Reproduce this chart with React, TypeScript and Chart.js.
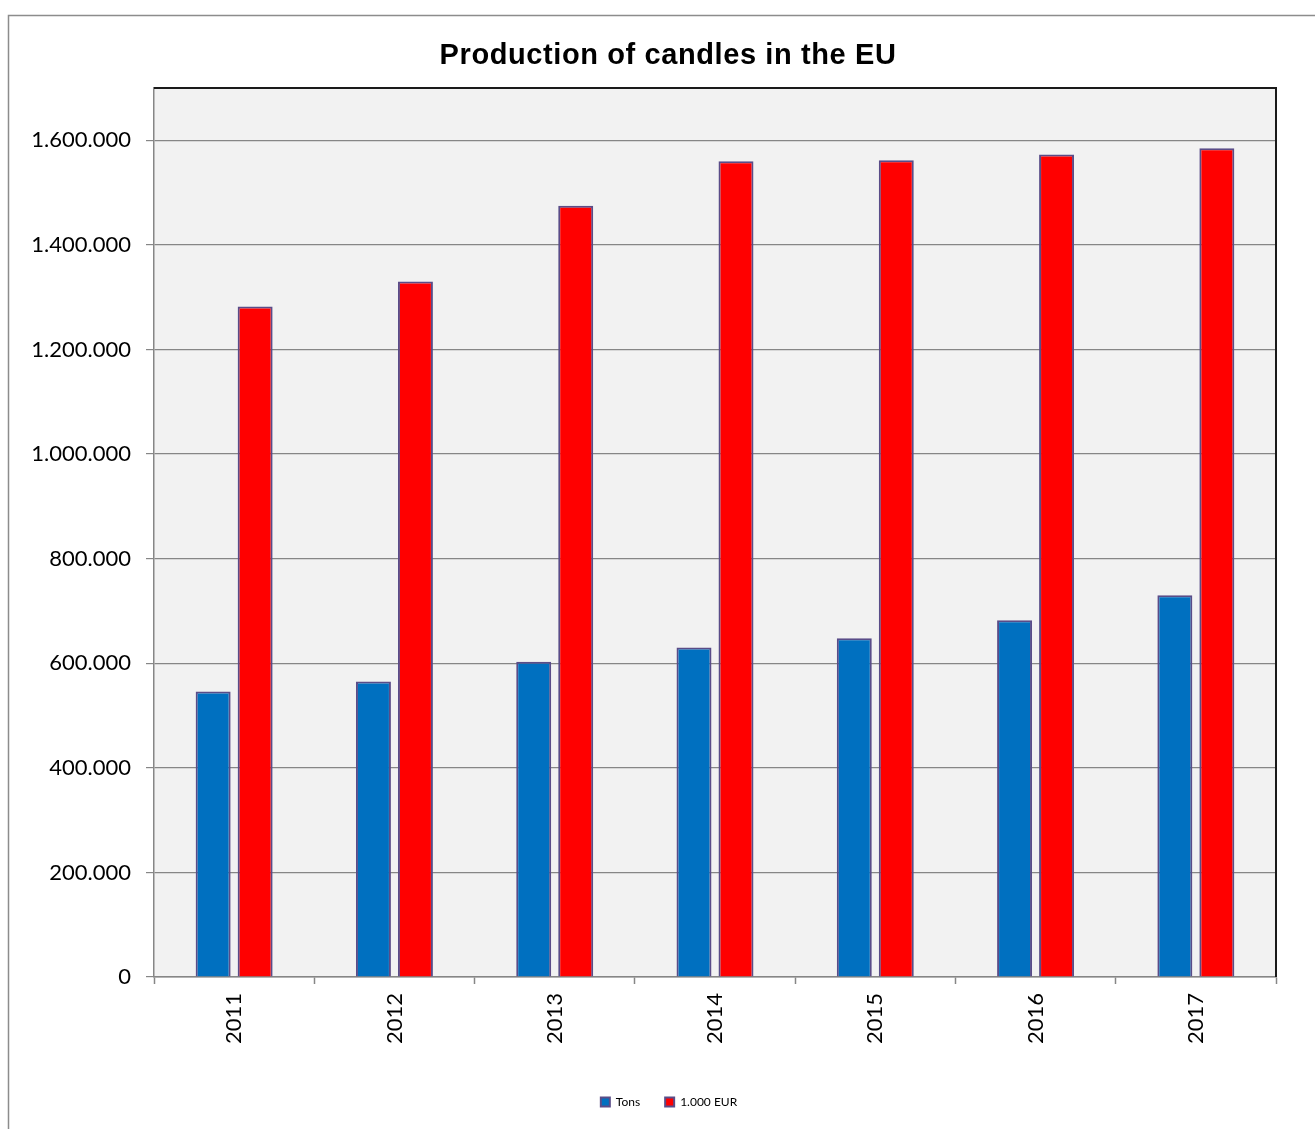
import React, { useEffect, useRef } from "react";
import { Chart, registerables } from "chart.js";

Chart.register(...registerables);

const years = ["2011", "2012", "2013", "2014", "2015", "2016", "2017"];
const tons = [546000, 565000, 603000, 630000, 648000, 682000, 730000];
const eur = [1282000, 1330000, 1475000, 1560000, 1562000, 1573000, 1585000];
const yTicks = [0, 200000, 400000, 600000, 800000, 1000000, 1200000, 1400000, 1600000];
const titleText = "Production of candles in the EU";
const seriesNames = ["Tons", "1.000 EUR"];

const fmt = (v: number) => String(v).replace(/\B(?=(\d{3})+(?!\d))/g, ".");

const decor = {
  id: "decor",
  afterLayout(chart: any) {
    const lg = chart.legend;
    if (lg) {
      lg.left += 31;
      lg.right += 31;
    }
  },
  beforeDraw(chart: any) {
    const { ctx, chartArea: a } = chart;
    ctx.save();
    ctx.fillStyle = "#ffffff";
    ctx.fillRect(0, 0, chart.width, chart.height);
    ctx.strokeStyle = "#8c8c8c";
    ctx.lineWidth = 1.5;
    ctx.beginPath();
    ctx.moveTo(8.5, chart.height + 5);
    ctx.lineTo(8.5, 15.5);
    ctx.lineTo(chart.width + 5, 15.5);
    ctx.stroke();
    ctx.fillStyle = "#f2f2f2";
    ctx.fillRect(a.left, a.top, a.right - a.left, a.bottom - a.top);
    ctx.fillStyle = "#000";
    ctx.font = "bold 29px 'Liberation Sans', Arial, sans-serif";
    try {
      (ctx as any).letterSpacing = "0.6px";
    } catch (e) {}
    ctx.textAlign = "center";
    ctx.textBaseline = "alphabetic";
    ctx.fillText(titleText, 668, 63.5);
    ctx.restore();
  },
  afterDraw(chart: any) {
    const { ctx, chartArea: a } = chart;
    ctx.save();
    ctx.strokeStyle = "#1a1a1a";
    ctx.lineWidth = 2;
    ctx.beginPath();
    ctx.moveTo(a.left, a.top);
    ctx.lineTo(a.right, a.top);
    ctx.lineTo(a.right, a.bottom);
    ctx.stroke();
    ctx.restore();
  },
};

export default function App() {
  const ref = useRef<HTMLCanvasElement>(null);
  useEffect(() => {
    const chart = new Chart(ref.current as HTMLCanvasElement, {
      type: "bar",
      data: {
        labels: years,
        datasets: [
          {
            label: seriesNames[0],
            data: tons,
            backgroundColor: "#0070C0",
            borderColor: "#5a4c88",
            borderWidth: 2,
            categoryPercentage: 0.524,
            barPercentage: 0.833,
          },
          {
            label: seriesNames[1],
            data: eur,
            backgroundColor: "#FF0000",
            borderColor: "#5a4c88",
            borderWidth: 2,
            categoryPercentage: 0.524,
            barPercentage: 0.833,
          },
        ],
      },
      plugins: [decor],
      options: {
        animation: false,
        responsive: false,
        devicePixelRatio: 1,
        layout: { padding: { left: 0, right: 39, top: 88, bottom: 11 } },
        plugins: {
          title: { display: false },
          tooltip: { enabled: false },
          legend: {
            display: true,
            position: "bottom",
            labels: {
              boxWidth: 9,
              boxHeight: 9,
              padding: 25,
              color: "#000",
              font: { family: "Lato, sans-serif", size: 12 },
            },
          },
        },
        scales: {
          x: {
            afterFit: (s: any) => {
              s.height = 94;
            },
            grid: {
              display: true,
              drawOnChartArea: false,
              drawTicks: true,
              tickLength: 7,
              tickColor: "#868686",
              tickWidth: 1.5,
              offset: true,
            },
            border: { color: "#868686", width: 1.5 },
            ticks: {
              minRotation: 90,
              maxRotation: 90,
              padding: 9,
              color: "#000",
              font: { family: "Lato, sans-serif", size: 22 },
            },
          },
          y: {
            min: 0,
            max: 1700000,
            afterFit: (s: any) => {
              s.width = 154;
            },
            afterBuildTicks: (s: any) => {
              s.ticks = yTicks.map((v) => ({ value: v }));
            },
            grid: {
              color: "#868686",
              lineWidth: 1.2,
              tickLength: 8,
              tickColor: "#868686",
            },
            border: { color: "#868686", width: 1.5 },
            ticks: {
              padding: 15,
              color: "#000",
              font: { family: "Lato, sans-serif", size: 22 },
              callback: (v: any) => fmt(Number(v)),
            },
          },
        },
      },
    } as any);
    return () => chart.destroy();
  }, []);
  return (
    <div style={{ position: "fixed", left: 0, top: 0, width: 1315, height: 1129 }}>
      <canvas ref={ref} width={1315} height={1129} />
    </div>
  );
}
